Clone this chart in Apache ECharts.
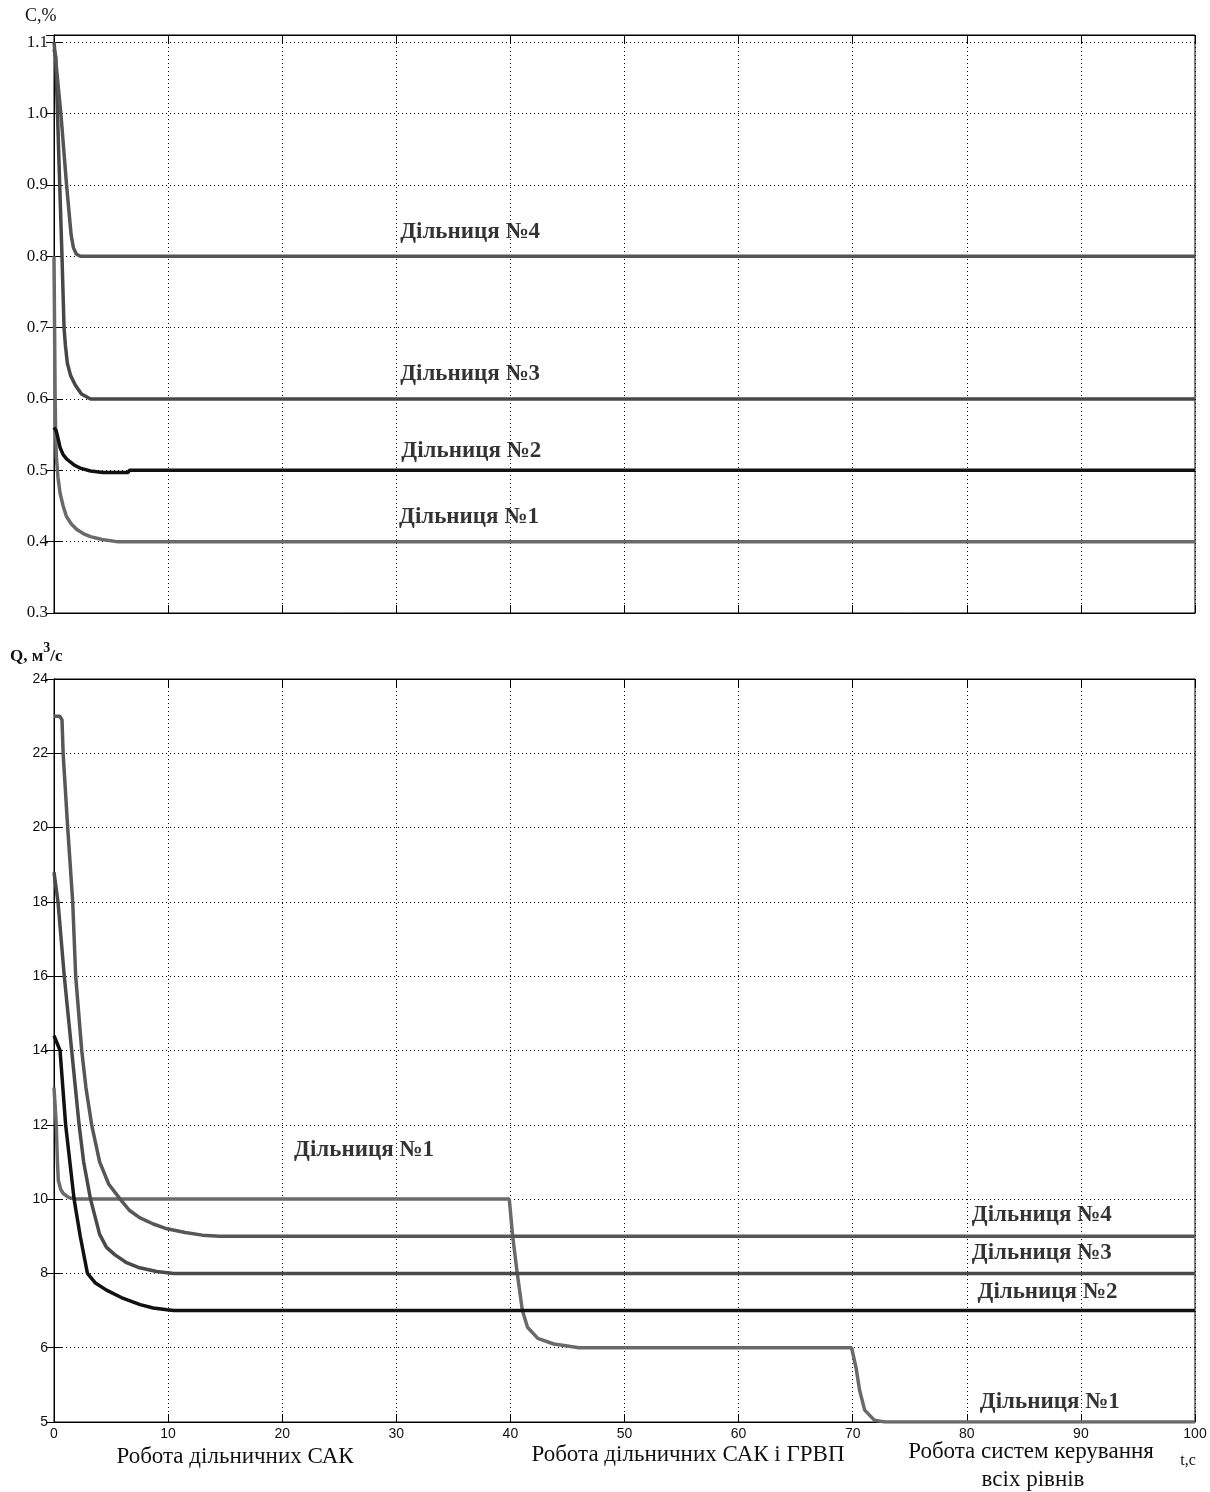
<!DOCTYPE html>
<html><head><meta charset="utf-8">
<script src="https://cdn.jsdelivr.net/npm/echarts@6/dist/echarts.min.js"></script>
<style>html,body{margin:0;padding:0;background:#fff}#c{width:1210px;height:1492px}</style>
</head><body><div id="c"></div>
<script>
// ---------- data (t, value) ----------
const xTickValues = [0,10,20,30,40,50,60,70,80,90,100];
const cTickValues = [0.3,0.4,0.5,0.6,0.7,0.8,0.9,1.0,1.1];
const cTickLabels = ['0.3','0.4','0.5','0.6','0.7','0.8','0.9','1.0','1.1'];
const qTickValues = [4,6,8,10,12,14,16,18,20,22,24];
const qTickLabels = ['5','6','8','10','12','14','16','18','20','22','24'];

const c4 = [[0,1.1],[0.1,1.1],[0.6,1.0],[1.1,0.9],[1.5,0.83],[1.7,0.812],[1.95,0.803],[2.3,0.8],[100,0.8]];
const c3 = [[0,1.09],[0.15,1.08],[0.5,0.9],[0.7,0.8],[0.88,0.7],[1.0,0.675],[1.17,0.65],[1.45,0.633],[1.85,0.62],[2.4,0.607],[3.2,0.6],[100,0.6]];
const c2 = [[0,0.56],[0.2,0.555],[0.35,0.545],[0.53,0.532],[0.8,0.522],[1.1,0.516],[1.4,0.512],[1.8,0.507],[2.3,0.503],[3.2,0.499],[4.3,0.497],[6.5,0.497],[6.6,0.5],[100,0.5]];
const c1 = [[0,0.8],[0.05,0.7],[0.1,0.6],[0.15,0.55],[0.2,0.52],[0.35,0.49],[0.53,0.468],[0.8,0.45],[1.1,0.435],[1.5,0.425],[2.0,0.417],[2.6,0.411],[3.2,0.407],[4.2,0.403],[5.5,0.4],[100,0.4]];

const q4 = [[0,23],[0.5,23],[0.7,22.9],[0.8,22],[1.2,20],[1.64,18],[1.9,16],[2.43,14],[2.8,13],[3.3,12],[4.0,11],[4.8,10.4],[5.8,10],[6.6,9.7],[7.5,9.5],[8.7,9.33],[9.9,9.2],[11.5,9.1],[13,9.03],[14.5,9],[100,9]];
const q3 = [[0,18.8],[0.35,18],[0.9,16],[1.55,14],[2.2,12],[2.6,11],[3.2,10],[4.0,9.05],[4.6,8.7],[5.35,8.5],[6.3,8.3],[7.5,8.15],[9,8.05],[10.5,8],[100,8]];
const q2 = [[0,14.4],[0.15,14.4],[0.53,14],[1.02,12],[1.76,10],[2.3,9],[2.93,8],[3.6,7.75],[4.6,7.55],[5.9,7.35],[7.55,7.16],[8.7,7.07],[9.9,7.02],[10.5,7],[100,7]];
const q1 = [[0,13],[0.1,13],[0.2,12],[0.3,11],[0.38,10.5],[0.6,10.25],[0.82,10.15],[1.3,10.04],[2,10],[39.9,10],[40.2,9],[40.6,8],[41.05,7],[41.5,6.55],[42.4,6.25],[43.8,6.1],[45.3,6.03],[46,6],[69.9,6],[70.3,5.45],[70.6,4.86],[71.05,4.32],[71.9,4.05],[72.8,4],[100,4]];

const sectionNames = ['Дільниця №1','Дільниця №2','Дільниця №3','Дільниця №4'];
const topAnnotations = [[30.3,0.834,3],[30.3,0.635,2],[30.4,0.527,1],[30.2,0.435,0]];
const bottomAnnotations = [[80.4,9.56,3],[80.4,8.54,2],[80.9,7.5,1],[81.1,4.54,0],[21.0,11.31,0]];

// ---------- chart ----------
const chart = echarts.init(document.getElementById('c'), null, {renderer:'canvas'});
const serif = 'Liberation Serif, Times New Roman, serif';
const sans = 'Liberation Sans, Arial, sans-serif';
const gridLine = {show:true, lineStyle:{color:'#000', width:1, type:[1,3]}};
const tick = {show:true, inside:true, length:8, lineStyle:{color:'#000', width:1}};
const line = {show:true, lineStyle:{color:'#000', width:1}};

function xAx(grid, pos, labels, split){
  return {type:'value', gridIndex:grid, position:pos, min:0, max:100, interval:10,
    axisLine:line, axisTick:tick, splitLine: split ? gridLine : {show:false},
    axisLabel: labels ? {show:true, margin:5, color:'#111', fontFamily:sans, fontSize:14,
      formatter:v => xTickValues.indexOf(v) >= 0 ? String(v) : ''} : {show:false}};
}
function yAx(grid, pos, min, max, interval, vals, labs, font, size, split){
  return {type:'value', gridIndex:grid, position:pos, min:min, max:max, interval:interval,
    axisLine:line, axisTick:tick, splitLine: split ? gridLine : {show:false},
    axisLabel: labs ? {show:true, margin:6, color:'#111', fontFamily:font, fontSize:size,
      formatter:v => { const i = vals.findIndex(u => Math.abs(u - v) < 1e-6); return i >= 0 ? labs[i] : ''; }} : {show:false}};
}
function ln(name, data, color, xi, yi, w){
  return {name:name, type:'line', data:data, xAxisIndex:xi, yAxisIndex:yi, symbol:'none',
    smooth:false, lineStyle:{color:color, width:w||3.5}, itemStyle:{color:color}, z:3, silent:true};
}
function ann(list, xi, yi){
  return {type:'scatter', xAxisIndex:xi, yAxisIndex:yi, symbolSize:1, itemStyle:{color:'transparent'}, silent:true, z:5,
    data:list.map(a => ({name:sectionNames[a[2]], value:[a[0], a[1]]})),
    label:{show:true, position:'right', distance:0, formatter:p => p.name,
      fontFamily:serif, fontWeight:'bold', fontSize:23, color:'#000', textBorderWidth:0}};
}

chart.setOption({
  animation:false,
  backgroundColor:'#fff',
  grid:[
    {left:54, right:15, top:35, height:578, show:true, borderColor:'#000', borderWidth:1},
    {left:54, right:15, top:679, height:743, show:true, borderColor:'#000', borderWidth:1}
  ],
  xAxis:[ xAx(0,'bottom',false,true), xAx(0,'top',false,false), xAx(1,'bottom',true,true), xAx(1,'top',false,false) ],
  yAxis:[
    yAx(0,'left',0.3,1.11,0.1,cTickValues,cTickLabels,serif,17,true),
    yAx(0,'right',0.3,1.11,0.1,cTickValues,null,serif,17,false),
    yAx(1,'left',4,24,2,qTickValues,qTickLabels,sans,14,true),
    yAx(1,'right',4,24,2,qTickValues,null,sans,14,false)
  ],
  series:[
    ln('C1', c1, '#6a6a6a', 0, 0),
    ln('C2', c2, '#111111', 0, 0),
    ln('C3', c3, '#474747', 0, 0),
    ln('C4', c4, '#555555', 0, 0),
    ln('Q1', q1, '#6a6a6a', 2, 2),
    ln('Q2', q2, '#111111', 2, 2),
    ln('Q3', q3, '#4a4a4a', 2, 2),
    ln('Q4', q4, '#575757', 2, 2),
    ann(topAnnotations, 0, 0),
    ann(bottomAnnotations, 2, 2)
  ],
  graphic:[
    {type:'text', left:25, top:7, style:{text:'C,%', font:'18px '+serif, fill:'#111'}},
    {type:'text', left:10, top:641, style:{text:'{a|Q, м}{s|3}{a|/с}', fill:'#111',
      rich:{a:{fontFamily:serif, fontSize:17, fontWeight:'bold', verticalAlign:'bottom', lineHeight:24},
            s:{fontFamily:serif, fontSize:14, fontWeight:'bold', verticalAlign:'top', lineHeight:24}}}},
    {type:'text', x:235, y:1457, style:{text:'Робота дільничних САК', font:'23px '+serif, fill:'#111', align:'center', verticalAlign:'middle'}},
    {type:'text', x:688, y:1455, style:{text:'Робота дільничних САК і ГРВП', font:'23px '+serif, fill:'#111', align:'center', verticalAlign:'middle'}},
    {type:'text', x:1031, y:1452, style:{text:'Робота систем керування', font:'23px '+serif, fill:'#111', align:'center', verticalAlign:'middle'}},
    {type:'text', x:1033, y:1480, style:{text:'всіх рівнів', font:'23px '+serif, fill:'#111', align:'center', verticalAlign:'middle'}},
    {type:'text', x:1188, y:1461, style:{text:'t,c', font:'16px '+serif, fill:'#111', align:'center', verticalAlign:'middle'}}
  ]
});
</script></body></html>
